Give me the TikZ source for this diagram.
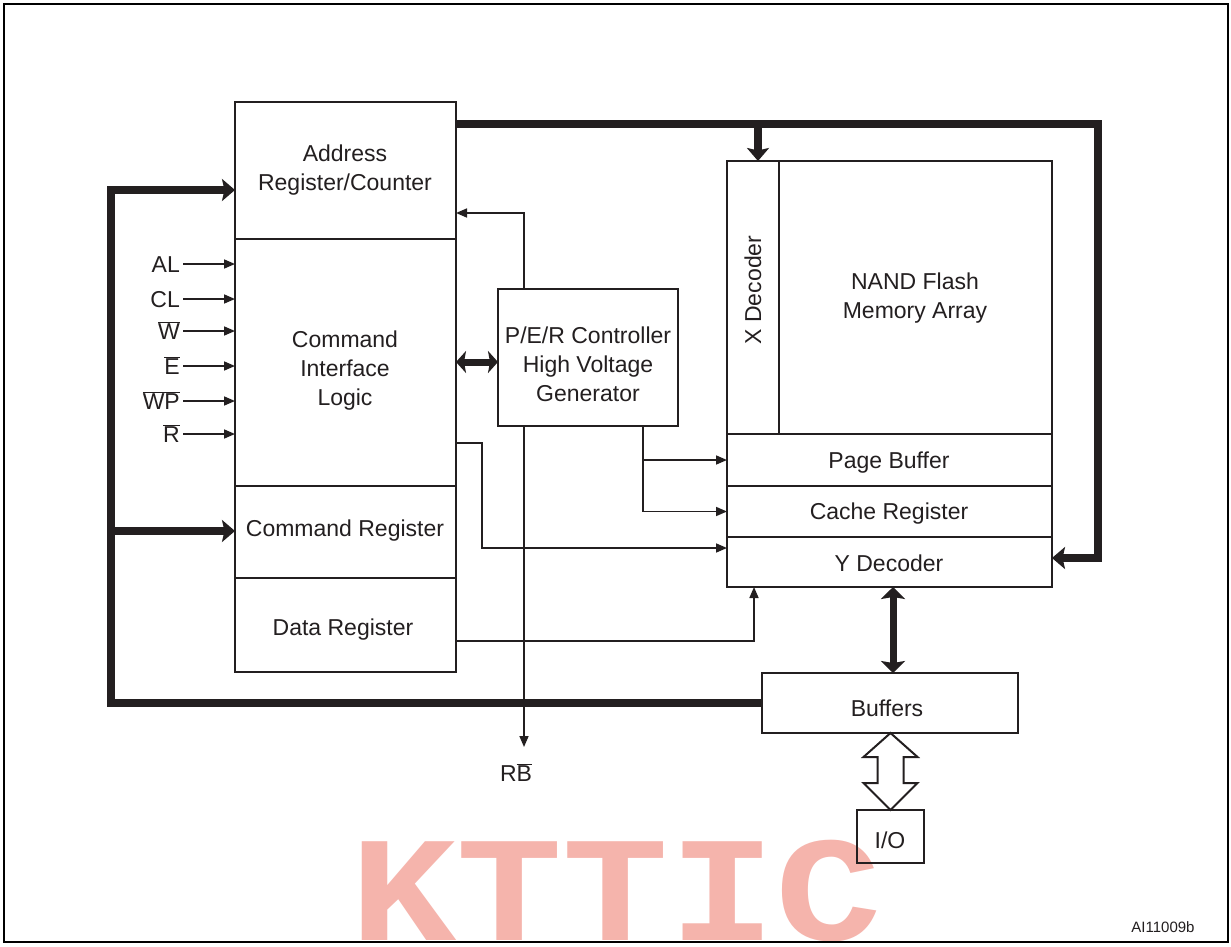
\documentclass[tikz,border=0pt]{standalone}
\usepackage{fontspec}
\setmainfont{Liberation Sans}
\newfontfamily\wmfont{Liberation Mono}
\usetikzlibrary{arrows.meta}
\definecolor{ink}{HTML}{231F20}
\definecolor{wmpink}{HTML}{F5B4AC}
\newcommand{\ovl}[1]{$\overline{\mbox{#1}}$}
\begin{document}
\begin{tikzpicture}[x=1pt,y=-1pt,
  box/.style={draw=ink,line width=2.6pt,anchor=north west,inner sep=0pt,outer sep=0pt},
  txt/.style={text=ink,align=center,inner sep=0pt,font=\fontsize{23}{29}\selectfont},
  lbl/.style={text=ink,inner sep=0pt,anchor=east,text height=17pt,text depth=0pt,font=\fontsize{23}{29}\selectfont},
  sig/.style={draw=ink,line width=1.6pt,-{Triangle[length=11pt,width=9pt]}},
  bus/.style={draw=ink,line width=7.5pt},
  bushead/.style={-{Stealth[length=13pt,width=22pt,inset=2.5pt]}},
  dblhead/.style={{Stealth[length=10pt,width=22pt,inset=2pt]}-{Stealth[length=10pt,width=22pt,inset=2pt]}},
  dblhead2/.style={{Stealth[length=12pt,width=24pt,inset=2pt]}-{Stealth[length=12pt,width=24pt,inset=2pt]}}
]
\useasboundingbox (0,0) rectangle (1231,947);
\fill[white] (0,0) rectangle (1231,947);
% watermark
\node[text=wmpink,font=\wmfont\bfseries\fontsize{150}{150}\selectfont,anchor=base,inner sep=0pt,xscale=1.18] (wm) at (616,940) {KTTIC};
% frame
\draw[black,line width=2.5pt] (4,4) rectangle (1228,942);

% boxes
\node[box,minimum width=221pt,minimum height=137pt] (addr) at (235,102) {};
\node[box,minimum width=221pt,minimum height=247pt] (cil) at (235,239) {};
\node[box,minimum width=221pt,minimum height=92pt] (creg) at (235,486) {};
\node[box,minimum width=221pt,minimum height=94pt] (dreg) at (235,578) {};
\node[box,minimum width=180pt,minimum height=137pt] (ctrl) at (498,289) {};
\node[box,minimum width=52pt,minimum height=273pt] (xdec) at (727,161) {};
\node[box,minimum width=273pt,minimum height=273pt] (nand) at (779,161) {};
\node[box,minimum width=325pt,minimum height=52pt] (pbuf) at (727,434) {};
\node[box,minimum width=325pt,minimum height=51pt] (cache) at (727,486) {};
\node[box,minimum width=325pt,minimum height=50pt] (ydec) at (727,537) {};
\node[box,minimum width=256pt,minimum height=60pt] (buf) at (762,673) {};
\node[box,minimum width=67pt,minimum height=53pt] (io) at (857,810) {};

% texts
\node[txt] (addrt) at (345,170) {Address\\Register/Counter};
\node[txt] (cilt) at (345,371) {Command\\Interface\\Logic};
\node[txt] (cregt) at (345,531) {Command Register};
\node[txt] (dregt) at (343,630) {Data Register};
\node[txt] (ctrlt) at (588,364) {P/E/R Controller\\High Voltage\\Generator};
\node[txt,rotate=90] (xdect) at (753,290) {X Decoder};
\node[txt] (nandt) at (915,298) {NAND Flash\\Memory Array};
\node[txt] (pbuft) at (889,463) {Page Buffer};
\node[txt] (cachet) at (889,514) {Cache Register};
\node[txt] (ydect) at (889,563) {Y Decoder};
\node[txt] (buft) at (887,708) {Buffers};
\node[txt] (iot) at (890,840) {I/O};
\node[text=ink,inner sep=0pt,font=\fontsize{15}{15}\selectfont] (ai) at (1163,927) {AI11009b};

% input signals
\node[lbl] (al) at (180,264) {AL};
\node[lbl] (cl) at (180,299) {CL};
\node[lbl] (w) at (180,331) {\ovl{W}};
\node[lbl] (e) at (180,366) {\ovl{E}};
\node[lbl] (wp) at (180,401) {\ovl{WP}};
\node[lbl] (r) at (180,434) {\ovl{R}};
\foreach \n in {al,cl,w,e,wp,r}
  \draw[sig,shorten <=3pt] (\n.east) -- (cil.west |- \n.east);

% thin connectors
\coordinate (ca) at (524,213);
\draw[sig] (ctrl.north -| ca) |- (addr.east |- ca);
\coordinate (rb) at (524,747);
\draw[sig] (ctrl.south -| rb) -- (rb);
\node[lbl,anchor=center] (rbl) at (516,773) {R\ovl{B}};
\coordinate (pb) at (643,460);
\draw[sig] (ctrl.south -| pb) |- (cache.west);
\draw[sig] (pb) -- (pbuf.west |- pb);
\coordinate (cy1) at (482,443);
\coordinate (cy2) at (482,548);
\draw[sig] (cil.east |- cy1) -- (cy1) -- (cy2) -- (ydec.west |- cy2);
\coordinate (dy) at (754,641);
\draw[sig] (dreg.east |- dy) -- (dy) -- (ydec.south -| dy);

% thick buses
\coordinate (tbR) at (1098,124);
\coordinate (tbB) at (1098,558);
\draw[bus,bushead] (addr.east |- tbR) -- (tbR) -- (tbB) -- (ydec.east |- tbB);
\coordinate (xd) at (758,124);
\draw[bus,bushead] (xd) -- (xdec.north -| xd);
\coordinate (lbT) at (111,190);
\draw[bus,bushead] (buf.west) -| (lbT) -- (addr.west |- lbT);
\coordinate (lbM) at (111,531);
\draw[bus,bushead] (lbM) -- (creg.west |- lbM);
\coordinate (cc) at (477,362);
\draw[bus,line width=7pt,dblhead] (cil.east |- cc) -- (ctrl.west |- cc);
\coordinate (yb) at (893,600);
\draw[bus,line width=7pt,dblhead2] (ydec.south -| yb) -- (buf.north -| yb);

% hollow double arrow Buffers <-> I/O
\draw[ink,line width=2pt,fill=white,line join=miter] (buf.south -| io.north) -- ++(27,24) -- ++(-14,0) -- ++(0,26) -- ++(14,0) -- (io.north) -- ++(-27,-27) -- ++(14,0) -- ++(0,-26) -- ++(-14,0) -- cycle;
\end{tikzpicture}
\end{document}
